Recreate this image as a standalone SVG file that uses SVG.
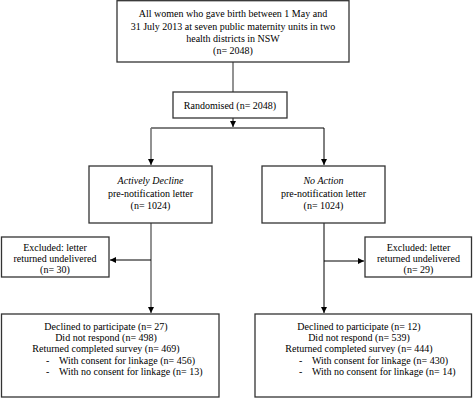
<svg xmlns="http://www.w3.org/2000/svg" width="473" height="407" viewBox="0 0 473 407">
<defs>
<marker id="ah" markerWidth="6" markerHeight="6" refX="6" refY="3" orient="auto" markerUnits="userSpaceOnUse">
<path d="M0,0 L6,3 L0,6 Z" fill="#000"/>
</marker>
<style>
.box{fill:#fff;stroke:#333;stroke-width:1.3}
text{font-family:"Liberation Serif","Times New Roman",serif;font-size:10px;fill:#000}
.c{text-anchor:middle}
.g{stroke:#777;stroke-width:1.6;fill:none}
.k{stroke:#000;stroke-width:1;fill:none}
</style>
</defs>
<rect width="473" height="407" fill="#fff"/>
<g id="connectors">
<path class="g" d="M233,62 V92"/>
<path class="k" d="M233,118 V127" marker-end="url(#ah)"/>
<path class="k" d="M151,128 H324"/>
<path class="g" d="M151,128 V165" marker-end="url(#ah)"/>
<path class="k" d="M324,128 V165" marker-end="url(#ah)"/>
<path class="g" d="M151,223 V313" marker-end="url(#ah)"/>
<path class="k" d="M151,260 H110" marker-end="url(#ah)"/>
<path class="k" d="M324,223 V313" marker-end="url(#ah)"/>
<path class="k" d="M324,261 H364" marker-end="url(#ah)"/>
</g>
<g id="all-women">
<rect class="box" x="117" y="0.7" width="232" height="61.3"/>
<text class="c" x="233" y="17">All women who gave birth between 1 May and</text>
<text class="c" x="233" y="29.5">31 July 2013 at seven public maternity units in two</text>
<text class="c" x="233" y="42">health districts in NSW</text>
<text class="c" x="233" y="54">(n= 2048)</text>
</g>
<g id="randomised">
<rect class="box" x="173" y="92" width="114" height="26"/>
<text class="c" x="230" y="108.5">Randomised (n= 2048)</text>
</g>
<g id="actively-decline">
<rect class="box" x="89" y="166" width="123" height="57"/>
<text class="c" x="150.5" y="184" font-style="italic">Actively Decline</text>
<text class="c" x="150.5" y="197">pre-notification letter</text>
<text class="c" x="150.5" y="209">(n= 1024)</text>
</g>
<g id="no-action">
<rect class="box" x="262" y="166" width="123" height="57"/>
<text class="c" x="323.5" y="184" font-style="italic">No Action</text>
<text class="c" x="323.5" y="197">pre-notification letter</text>
<text class="c" x="323.5" y="209">(n= 1024)</text>
</g>
<g id="excluded-left">
<rect class="box" x="1.5" y="237" width="107.5" height="40"/>
<text class="c" x="55" y="250.5">Excluded:  letter</text>
<text class="c" x="55" y="262">returned undelivered</text>
<text class="c" x="55" y="273">(n= 30)</text>
</g>
<g id="excluded-right">
<rect class="box" x="365" y="237" width="106.5" height="40"/>
<text class="c" x="418.5" y="250.5">Excluded:  letter</text>
<text class="c" x="418.5" y="262">returned undelivered</text>
<text class="c" x="418.5" y="273">(n= 29)</text>
</g>
<g id="outcome-left">
<rect class="box" x="1.5" y="314" width="217.5" height="83"/>
<text class="c" x="106" y="330">Declined to participate (n= 27)</text>
<text class="c" x="106" y="341">Did not respond (n= 498)</text>
<text class="c" x="106" y="352">Returned completed survey (n= 469)</text>
<text x="46" y="363.5">-</text>
<text x="59" y="363.5">With consent for linkage (n= 456)</text>
<text x="46" y="375">-</text>
<text x="59" y="375">With no consent for linkage (n= 13)</text>
</g>
<g id="outcome-right">
<rect class="box" x="255" y="314" width="216.5" height="83"/>
<text class="c" x="359" y="330">Declined to participate (n= 12)</text>
<text class="c" x="359" y="341">Did not respond (n= 539)</text>
<text class="c" x="359" y="352">Returned completed survey (n= 444)</text>
<text x="299" y="363.5">-</text>
<text x="312" y="363.5">With consent for linkage (n= 430)</text>
<text x="299" y="375">-</text>
<text x="312" y="375">With no consent for linkage (n= 14)</text>
</g>
</svg>
